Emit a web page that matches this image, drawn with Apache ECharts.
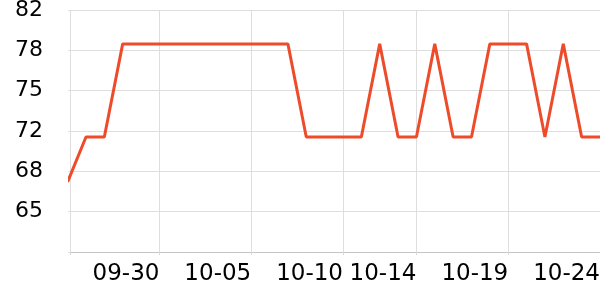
<!DOCTYPE html>
<html>
<head>
<meta charset="utf-8">
<script src="https://cdn.jsdelivr.net/npm/echarts@6/dist/echarts.min.js"></script>
<style>
  html, body { margin: 0; padding: 0; background: #fff; }
  #chart { width: 600px; height: 300px; }
</style>
</head>
<body>
<div id="chart"></div>
<script>
// Dates (one point per day)
var dates = [
  '09-25','09-26','09-27','09-28','09-29','09-30',
  '10-01','10-02','10-03','10-04','10-05','10-06','10-07','10-08','10-09','10-10',
  '10-11','10-12','10-13','10-14','10-15','10-16','10-17','10-18','10-19','10-20',
  '10-21','10-22','10-23','10-24'
];
// Series values
var values = [
  67.8, 71.5, 71.5, 79.2, 79.2, 79.2, 79.2, 79.2, 79.2, 79.2,
  79.2, 79.2, 79.2, 71.5, 71.5, 71.5, 71.5, 79.2, 71.5, 71.5,
  79.2, 71.5, 71.5, 79.2, 79.2, 79.2, 71.5, 79.2, 71.5, 71.5
];
// Labelled dates on the x axis
var xTickLabels = ['09-30', '10-05', '10-10', '10-14', '10-19', '10-24'];
// Y axis tick values (labels shown as whole numbers, truncated)
var yTicks = [62, 65.3333, 68.6667, 72, 75.3333, 78.6667, 82];

var xTickIdx = xTickLabels.map(function (d) { return dates.indexOf(d); });
var seriesData = values.map(function (v, i) { return [i, v]; });

var chart = echarts.init(document.getElementById('chart'), null, { renderer: 'canvas' });
chart.setOption({
  animation: false,
  backgroundColor: '#ffffff',
  grid: { left: 70, right: 0, top: 10, bottom: 48, containLabel: false, outerBoundsMode: 'none' },
  xAxis: {
    type: 'value',
    min: 0.13,
    max: dates.length - 1,
    axisLine: { show: true, lineStyle: { color: '#c4c4c4', width: 1 } },
    axisTick: {
      show: true, length: 3, inside: false,
      customValues: [0.13].concat(xTickIdx),
      lineStyle: { color: '#d8d8d8' }
    },
    splitLine: { show: true, lineStyle: { color: '#dedede', width: 1 } },
    axisLabel: {
      customValues: xTickIdx,
      formatter: function (v) { return dates[Math.round(v)]; },
      align: 'right',
      margin: 11,
      fontFamily: 'DejaVu Sans',
      fontSize: 23,
      color: '#000'
    }
  },
  yAxis: {
    type: 'value',
    min: 62,
    max: 82,
    axisLine: { show: false },
    axisTick: {
      show: true, length: 2,
      customValues: yTicks,
      lineStyle: { color: '#dedede' }
    },
    splitLine: { show: true, lineStyle: { color: '#dedede', width: 1 } },
    axisLabel: {
      customValues: yTicks.slice(1),
      formatter: function (v) { return String(Math.floor(v + 1e-6)); },
      margin: 27,
      fontFamily: 'DejaVu Sans',
      fontSize: 22,
      color: '#000'
    }
  },
  series: [{
    type: 'line',
    data: seriesData,
    showSymbol: false,
    symbol: 'none',
    clip: true,
    lineStyle: { color: '#ee4b2b', width: 3 }
  }]
});
</script>
</body>
</html>
